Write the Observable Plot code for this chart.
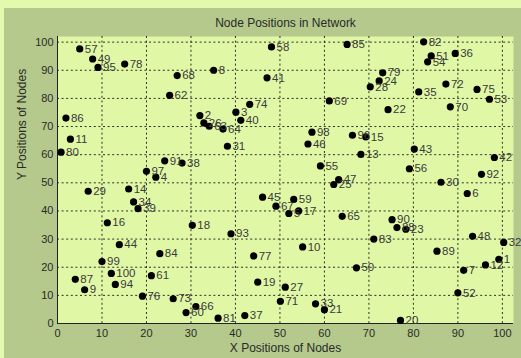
<!DOCTYPE html>
<html>
<head>
<meta charset="utf-8">
<script src="https://cdn.jsdelivr.net/npm/d3@7"></script>
<script src="https://cdn.jsdelivr.net/npm/@observablehq/plot@0.6"></script>
<style>
  html, body { margin: 0; padding: 0; background: #e3f9ad; width: 521px; height: 358px; overflow: hidden; }
  #chart { position: absolute; left: 4px; top: 8px; width: 517px; height: 350px; background: #b4c98b; }
</style>
</head>
<body>
<div id="chart"></div>
<script>
const nodeIds = d3.range(1, 101);
const nodeX = [
  99.2, 32.0, 40.1, 22.1, 52.0, 92.1, 91.3, 35.1, 6.1, 55.1,
  2.9, 96.2, 68.2, 16.0, 69.3, 11.2, 54.2, 30.3, 45.0, 77.1,
  60.0, 74.3, 78.3, 72.3, 62.1, 32.9, 51.2, 70.3, 6.9, 86.2,
  38.2, 100.3, 58.0, 17.1, 81.2, 89.4, 42.1, 28.0, 18.1, 41.2,
  47.1, 98.2, 80.2, 13.9, 46.1, 56.3, 63.2, 93.3, 7.9, 67.2,
  84.0, 90.0, 97.1, 83.2, 59.1, 79.1, 5.0, 48.1, 53.1, 28.9,
  21.1, 25.2, 34.1, 37.2, 64.0, 31.1, 49.1, 26.9, 61.1, 88.3,
  50.1, 87.3, 26.0, 43.2, 94.3, 19.1, 44.1, 15.1, 73.1, 0.8,
  36.1, 82.3, 71.1, 23.0, 65.1, 1.9, 4.0, 76.3, 85.3, 75.2,
  24.1, 95.3, 39.0, 13.0, 9.1, 66.3, 20.0, 57.2, 10.0, 12.1
];
const nodeY = [
  22.8, 73.9, 75.1, 52.0, 39.1, 46.2, 18.9, 90.0, 12.0, 27.2,
  65.5, 20.8, 60.1, 47.8, 66.3, 35.8, 40.0, 34.9, 14.7, 1.1,
  4.9, 76.0, 33.5, 86.2, 49.4, 71.3, 12.9, 84.1, 47.0, 50.2,
  63.0, 28.8, 7.0, 43.2, 82.3, 96.0, 2.8, 57.0, 40.8, 72.2,
  87.3, 59.0, 62.0, 28.0, 44.9, 63.8, 51.1, 31.0, 94.0, 19.8,
  95.1, 10.9, 79.7, 93.0, 56.0, 55.0, 97.6, 98.3, 44.1, 3.9,
  17.0, 81.1, 70.1, 69.1, 38.1, 6.0, 41.7, 88.1, 79.1, 77.0,
  7.9, 85.1, 8.8, 77.9, 83.2, 9.7, 24.0, 92.2, 89.1, 60.9,
  1.9, 100.1, 30.0, 24.8, 99.2, 73.0, 15.7, 34.1, 25.7, 36.9,
  57.8, 53.0, 31.9, 13.9, 91.0, 66.9, 54.1, 68.0, 22.0, 17.8
];
const xTicks = [0, 10, 20, 30, 40, 50, 60, 70, 80, 90, 100];
const yTicks = [0, 10, 20, 30, 40, 50, 60, 70, 80, 90, 100];
const titleText = "Node Positions in Network";
const xLabelText = "X Positions of Nodes";
const yLabelText = "Y Positions of Nodes";

const nodes = nodeIds.map((id, i) => ({id, x: nodeX[i], y: nodeY[i]}));
const font = "'Liberation Sans', Arial, sans-serif";

const chart = Plot.plot({
  width: 517,
  height: 350,
  marginLeft: 53,
  marginRight: 8,
  marginTop: 28,
  marginBottom: 35,
  style: {background: "transparent", fontFamily: font, fontSize: "11px", color: "#2a2a2a", overflow: "visible"},
  x: {domain: [0, 102.5], ticks: xTicks, tickSize: 0, tickPadding: 6, label: null},
  y: {domain: [0, 102], ticks: yTicks, tickSize: 0, tickPadding: 4, label: null},
  marks: [
    Plot.frame({fill: "#e0f8a6", stroke: null}),
    Plot.ruleX(xTicks.slice(1), {stroke: "#1a1a1a", strokeWidth: 1, strokeDasharray: "2,2.6", strokeOpacity: 0.9}),
    Plot.ruleY(yTicks.slice(1), {stroke: "#1a1a1a", strokeWidth: 1, strokeDasharray: "2,2.6", strokeOpacity: 0.9}),
    Plot.ruleX([0], {stroke: "#222"}),
    Plot.ruleY([0], {stroke: "#222"}),
    Plot.dot(nodes, {x: "x", y: "y", r: 3.6, fill: "#000", stroke: null}),
    Plot.text(nodes, {x: "x", y: "y", text: "id", textAnchor: "start", dx: 5, fill: "#3a3a3a", fontSize: 11.5}),
    Plot.text([titleText], {frameAnchor: "top", dy: -13, lineAnchor: "middle", fontSize: 12, fill: "#2a2a2a"}),
    Plot.text([xLabelText], {frameAnchor: "bottom", dy: 25, lineAnchor: "middle", fontSize: 12, fill: "#2a2a2a"}),
    Plot.text([yLabelText], {frameAnchor: "left", dx: -35, rotate: -90, lineAnchor: "middle", fontSize: 12, fill: "#2a2a2a"})
  ]
});
document.getElementById("chart").appendChild(chart);
</script>
</body>
</html>
